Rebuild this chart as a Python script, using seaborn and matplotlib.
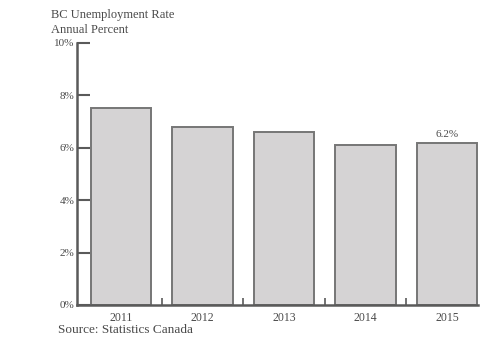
import matplotlib
matplotlib.use("Agg")
import matplotlib.pyplot as plt
import seaborn as sns
import pandas as pd

years = ["2011", "2012", "2013", "2014", "2015"]
rates = [7.5, 6.8, 6.6, 6.1, 6.2]
y_ticks = [0, 2, 4, 6, 8, 10]
y_tick_labels = ["0%", "2%", "4%", "6%", "8%", "10%"]

sns.set_style("white")
plt.rcParams["font.family"] = ["Liberation Serif", "DejaVu Serif"]

text_color = "#4a4a4a"
axis_color = "#5a5a5a"

df = pd.DataFrame({"year": years, "rate": rates})

fig = plt.figure(figsize=(4.8, 3.39), dpi=100)
ax = fig.add_axes([77 / 480, 34 / 339, (478 - 77) / 480, (305 - 43) / 339])

sns.barplot(data=df, x="year", y="rate", ax=ax, color="#d5d3d4",
            edgecolor="#767676", linewidth=1.4, width=0.74, saturation=1)

ax.set_xlim(-0.54, 4.38)
ax.set_ylim(0, 10)
ax.set_yticks(y_ticks)
ax.set_yticklabels(y_tick_labels)
ax.set_xlabel("")
ax.set_ylabel("")

for side in ["top", "right"]:
    ax.spines[side].set_visible(False)
for side in ["left", "bottom"]:
    ax.spines[side].set_color(axis_color)
    ax.spines[side].set_linewidth(1.8)

ax.tick_params(axis="y", left=True, direction="in", length=9, width=1.5,
               color=axis_color, labelsize=8, labelcolor=text_color, pad=2)
ax.tick_params(axis="x", which="major", bottom=True, length=0, labelsize=8.5,
               labelcolor=text_color, pad=5)
ax.set_xticks([0.5, 1.5, 2.5, 3.5], minor=True)
ax.tick_params(axis="x", which="minor", bottom=True, direction="in", length=5,
               width=1.2, color=axis_color)

# value label on the latest year
ax.text(4, rates[-1] + 0.12, f"{rates[-1]}%", ha="center", va="bottom",
        fontsize=8, color=text_color)

fig.text(51 / 480, 1 - 15 / 339, "BC Unemployment Rate", fontsize=9,
         color=text_color, va="center", ha="left")
fig.text(51 / 480, 1 - 30 / 339, "Annual Percent", fontsize=9,
         color=text_color, va="center", ha="left")
fig.text(58 / 480, 1 - 330 / 339, "Source: Statistics Canada", fontsize=9.5,
         color=text_color, va="center", ha="left")

fig.savefig("out.png", dpi=100, facecolor="white")
